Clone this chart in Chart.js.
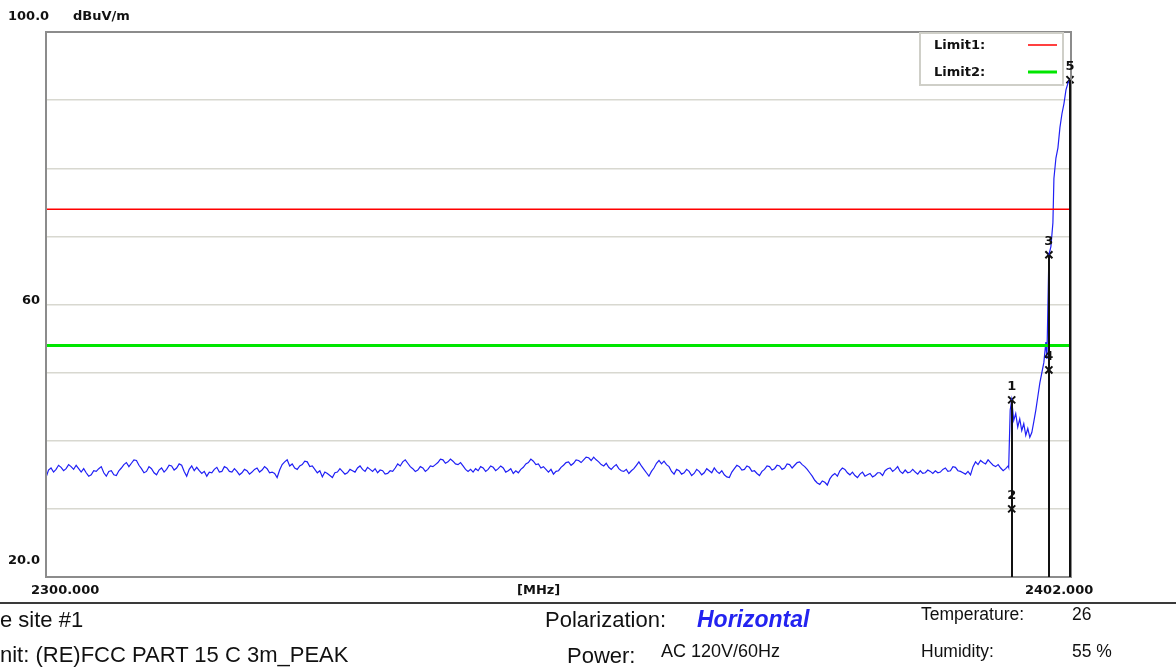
<!DOCTYPE html>
<html>
<head>
<meta charset="utf-8">
<script src="https://cdn.jsdelivr.net/npm/chart.js@4"></script>
<style>
    body { margin: 0; background: #fff; }
    #wrap { position: relative; width: 1176px; height: 671px; overflow: hidden; }
    #chart { position: absolute; left: 0; top: 0; }
    .info { position: absolute; font-family: "Liberation Sans", Arial, sans-serif; color: #111; white-space: pre; line-height: 1; }
    .big { font-size: 22px; }
    .small { font-size: 17.5px; }
    #rule { position: absolute; left: 0; top: 602px; width: 1176px; height: 2px; background: #3a3a3a; }
</style>
</head>
<body>
<div id="wrap">
    <canvas id="chart" width="1176" height="671"></canvas>
    <div id="rule"></div>
    <div class="info big" style="left:0px; top:609px;">e site #1</div>
    <div class="info big" style="left:0px; top:644px;">nit: (RE)FCC PART 15 C 3m_PEAK</div>
    <div class="info big" style="left:545px; top:609px;">Polarization:</div>
    <div class="info" style="left:697px; top:608px; font-size:23px; font-weight:bold; font-style:italic; color:#2323f0;">Horizontal</div>
    <div class="info big" style="left:567px; top:645px;">Power:</div>
    <div class="info" style="left:661px; top:642px; font-size:18px;">AC 120V/60Hz</div>
    <div class="info small" style="left:921px; top:606px;">Temperature:</div>
    <div class="info small" style="left:1072px; top:606px;">26</div>
    <div class="info small" style="left:921px; top:643px;">Humidity:</div>
    <div class="info small" style="left:1072px; top:643px;">55 %</div>
</div>
<script>
// Eixos
const freqMin = 2300;
const freqMax = 2402;
const levelMin = 20;
const levelMax = 100;
const gridStep = 10;

// Linhas de limite (dBuV/m)
const limit1 = 74;
const limit2 = 54;

// Traço medido: parte de ruído, amostras a cada 0.5 MHz a partir de 2300
const noiseStart = 2300;
const noiseStep = 0.5;
const noiseLevels = [
    34.6, 36.0, 35.8, 36.1, 35.9, 36.2, 36.4, 35.4, 35.3, 35.0,
    35.5, 36.2, 34.8, 35.6, 34.9, 36.0, 36.8, 36.7, 37.1, 35.9,
    35.5, 35.9, 35.0, 36.0, 35.8, 36.3, 36.0, 36.4, 34.8, 36.3,
    36.1, 35.2, 34.8, 35.3, 36.1, 35.5, 36.0, 35.4, 35.5, 35.3,
    35.6, 35.4, 36.0, 35.7, 35.9, 35.4, 34.6, 36.5, 37.2, 36.6,
    35.8, 36.5, 36.9, 36.3, 35.3, 34.7, 35.2, 34.6, 35.4, 35.5,
    35.3, 35.6, 36.0, 35.8, 36.1, 35.5, 35.3, 35.6, 35.2, 35.5,
    36.6, 36.9, 36.7, 35.9, 35.7, 36.0, 35.8, 36.2, 36.8, 37.2,
    36.9, 37.0, 36.5, 36.3, 35.5, 35.4, 35.6, 36.0, 35.8, 36.1,
    35.9, 36.0, 35.6, 35.2, 35.3, 36.1, 36.8, 37.0, 36.6, 36.2,
    35.4, 35.1, 35.6, 36.4, 36.9, 36.7, 37.1, 37.2, 37.5, 37.6,
    36.9, 36.3, 36.1, 36.2, 35.9, 35.5, 35.2, 35.9, 36.9, 35.8,
    34.8, 36.0, 37.1, 37.0, 36.2, 35.1, 35.6, 35.3, 35.5, 35.2,
    35.5, 35.3, 35.6, 36.0, 35.2, 35.0, 34.6, 35.9, 36.2, 35.8,
    36.1, 35.6, 34.9, 35.8, 36.2, 35.9, 36.3, 36.0, 36.5, 36.4,
    36.9, 36.2, 35.3, 34.2, 33.6, 33.9, 34.4, 35.2, 35.6, 35.8,
    35.0, 34.9, 35.1, 34.8, 35.2, 34.9, 35.3, 35.6, 36.0, 35.8,
    35.5, 35.7, 35.4, 35.4, 35.6, 35.3, 35.5, 35.6, 35.4, 36.0,
    35.6, 36.1, 35.5, 35.1, 35.0, 36.9, 37.1, 36.6, 36.8, 36.2,
    36.0, 35.9
];
// amostras intermediárias (0.25 MHz depois de cada uma acima)
const noiseMidLevels = [
    35.7, 35.4, 36.4, 35.6, 36.5, 35.8, 35.9, 35.9, 34.8, 35.6,
    35.9, 35.3, 35.5, 35.0, 35.6, 36.5, 36.2, 37.2, 36.4, 35.3,
    36.2, 35.3, 35.7, 35.4, 36.4, 35.7, 36.6, 35.5, 35.8, 35.6,
    35.6, 35.5, 35.4, 35.8, 35.4, 36.2, 35.5, 35.9, 35.0, 35.8,
    35.1, 35.8, 35.4, 36.2, 35.3, 35.2, 35.7, 36.9, 36.3, 36.0,
    36.3, 37.0, 36.2, 35.8, 35.6, 35.4, 34.9, 35.3, 35.9, 35.1,
    35.8, 35.4, 36.3, 35.5, 35.8, 35.9, 35.7, 35.1, 35.6, 36.0,
    36.3, 37.2, 36.2, 35.5, 36.2, 35.5, 36.3, 36.5, 37.3, 36.7,
    37.3, 36.6, 36.8, 35.8, 35.8, 35.9, 36.2, 35.5, 36.3, 35.6,
    36.3, 35.4, 35.9, 35.6, 35.8, 36.6, 37.3, 36.5, 36.0, 35.8,
    35.8, 35.5, 36.1, 36.8, 36.4, 37.2, 36.8, 37.6, 37.1, 37.2,
    36.5, 36.7, 35.8, 36.5, 35.6, 35.8, 35.6, 36.4, 36.3, 35.3,
    35.5, 36.7, 36.6, 36.5, 35.5, 35.8, 35.1, 35.8, 34.9, 35.8,
    35.0, 35.9, 35.3, 35.5, 35.6, 34.7, 35.4, 36.4, 35.7, 36.3,
    35.5, 35.2, 35.5, 36.3, 35.7, 36.4, 35.8, 36.6, 36.0, 36.8,
    36.5, 35.8, 34.8, 33.8, 34.1, 33.5, 34.9, 34.8, 36.0, 35.3,
    35.4, 34.6, 35.4, 35.0, 34.7, 35.3, 34.9, 35.9, 35.5, 36.2,
    35.2, 35.3, 35.8, 35.1, 35.2, 35.7, 35.2, 35.3, 35.8, 35.5,
    36.2, 35.6, 35.3, 35.5, 36.2, 36.5, 36.8, 37.2, 36.4, 36.5,
    35.6, 36.3
];

// Traço medido: borda da banda (subida até 2402)
const edgeFreqs = [
    2395.8, 2395.95, 2396.1, 2396.3, 2396.5, 2396.7, 2396.9, 2397.1, 2397.3, 2397.5,
    2397.7, 2397.9, 2398.1, 2398.3, 2398.5, 2398.7, 2398.9, 2399.1, 2399.3, 2399.5,
    2399.6, 2399.8, 2400.0, 2400.2, 2400.3, 2400.5, 2400.7, 2400.9, 2401.1, 2401.3,
    2401.5, 2401.7, 2401.9
];
const edgeLevels = [
    36.1, 44.5, 46.0, 43.0, 44.0, 42.0, 43.2, 41.5, 42.5, 40.8,
    41.8, 40.5, 41.2, 42.8, 44.5, 46.5, 48.5, 50.0, 51.5, 54.5,
    52.0, 67.3, 68.5, 72.0, 78.5, 81.5, 83.0, 86.0, 88.0, 89.5,
    91.5, 92.5, 93.0
];

// Marcadores
const markerFreqs = [2396.1, 2396.1, 2399.8, 2399.8, 2401.9];
const markerLevels = [46.0, 30.0, 67.3, 50.4, 93.0];
const markerLabels = ['1', '2', '3', '4', '5'];

// Montar pontos do traço (ruído intercalado + borda)
const tracePoints = [];
noiseLevels.forEach((v, i) => {
    const f = noiseStart + i * noiseStep;
    tracePoints.push({ x: f, y: v });
    tracePoints.push({ x: f + noiseStep / 2, y: noiseMidLevels[i] });
});
edgeFreqs.forEach((f, i) => tracePoints.push({ x: f, y: edgeLevels[i] }));

const markerPoints = markerFreqs.map((f, i) => ({ x: f, y: markerLevels[i] }));

const labelFont = 'bold 13px "DejaVu Sans", sans-serif';

// Moldura, linhas dos marcadores, textos dos eixos e legenda
const decoracao = {
    id: 'decoracao',
    afterDatasetsDraw(chart) {
        const ctx = chart.ctx;
        const a = chart.chartArea;
        const xs = chart.scales.x;
        const ys = chart.scales.y;

        ctx.save();
        // moldura
        ctx.strokeStyle = '#8c8c8c';
        ctx.lineWidth = 2;
        ctx.strokeRect(a.left, a.top, a.right - a.left, a.bottom - a.top);

        // linhas verticais dos marcadores
        ctx.strokeStyle = '#111';
        ctx.lineWidth = 2;
        markerPoints.forEach(p => {
            const px = Math.round(xs.getPixelForValue(p.x));
            ctx.beginPath();
            ctx.moveTo(px, ys.getPixelForValue(p.y));
            ctx.lineTo(px, a.bottom);
            ctx.stroke();
        });
        ctx.restore();
    },
    afterDraw(chart) {
        const ctx = chart.ctx;
        const a = chart.chartArea;
        const xs = chart.scales.x;
        const ys = chart.scales.y;

        ctx.save();
        ctx.fillStyle = '#111';
        ctx.font = labelFont;
        ctx.textBaseline = 'middle';
        ctx.textAlign = 'left';
        ctx.fillText(levelMax.toFixed(1), 8, a.top - 15);
        ctx.fillText('dBuV/m', 73, a.top - 15);
        ctx.fillText('60', 22, ys.getPixelForValue(60) - 4);
        ctx.fillText(levelMin.toFixed(1), 8, a.bottom - 16);
        ctx.fillText(freqMin.toFixed(3), 31, a.bottom + 14);
        ctx.fillText('[MHz]', 517, a.bottom + 14);
        ctx.fillText(freqMax.toFixed(3), 1025, a.bottom + 14);

        // números dos marcadores
        ctx.textAlign = 'center';
        markerPoints.forEach((p, i) => {
            ctx.fillText(markerLabels[i], xs.getPixelForValue(p.x), ys.getPixelForValue(p.y) - 13);
        });

        // legenda
        const lx = 920, ly = 33, lw = 143, lh = 52;
        ctx.fillStyle = '#fff';
        ctx.fillRect(lx, ly, lw, lh);
        ctx.strokeStyle = '#cfcfc8';
        ctx.lineWidth = 2;
        ctx.strokeRect(lx, ly, lw, lh);
        ctx.fillStyle = '#111';
        ctx.textAlign = 'left';
        ctx.fillText('Limit1:', 934, 46);
        ctx.fillText('Limit2:', 934, 73);
        ctx.strokeStyle = '#ff0000';
        ctx.lineWidth = 1.5;
        ctx.beginPath(); ctx.moveTo(1028, 45); ctx.lineTo(1057, 45); ctx.stroke();
        ctx.strokeStyle = '#00e600';
        ctx.lineWidth = 3;
        ctx.beginPath(); ctx.moveTo(1028, 72); ctx.lineTo(1057, 72); ctx.stroke();
        ctx.restore();
    }
};

new Chart(document.getElementById('chart'), {
    type: 'scatter',
    data: {
        datasets: [
            {
                label: 'Limit1',
                data: [{ x: freqMin, y: limit1 }, { x: freqMax, y: limit1 }],
                showLine: true,
                borderColor: '#ff0000',
                borderWidth: 1.5,
                pointRadius: 0
            },
            {
                label: 'Limit2',
                data: [{ x: freqMin, y: limit2 }, { x: freqMax, y: limit2 }],
                showLine: true,
                borderColor: '#00e600',
                borderWidth: 3,
                pointRadius: 0
            },
            {
                label: 'Trace',
                data: tracePoints,
                showLine: true,
                borderColor: '#2020f5',
                borderWidth: 1.2,
                pointRadius: 0,
                tension: 0
            },
            {
                label: 'Markers',
                data: markerPoints,
                pointStyle: 'crossRot',
                pointRadius: 5,
                borderColor: '#111',
                borderWidth: 2,
                clip: false
            }
        ]
    },
    options: {
        responsive: false,
        animation: false,
        layout: { padding: { left: 46, top: 32, right: 105, bottom: 94 } },
        plugins: { legend: { display: false }, tooltip: { enabled: false } },
        scales: {
            x: {
                type: 'linear',
                min: freqMin,
                max: freqMax,
                ticks: { display: false },
                grid: { display: false, drawTicks: false },
                border: { display: false }
            },
            y: {
                min: levelMin,
                max: levelMax,
                ticks: { display: false, stepSize: gridStep },
                grid: { color: '#d8d8d0', lineWidth: 1.5, drawTicks: false },
                border: { display: false }
            }
        }
    },
    plugins: [decoracao]
});
</script>
</body>
</html>
